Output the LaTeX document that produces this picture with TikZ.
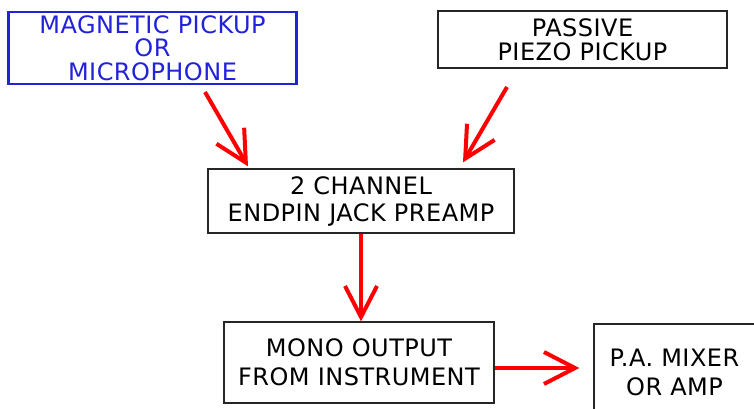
\documentclass[tikz,border=0pt]{standalone}
\usepackage{fontspec}
\setmainfont[LetterSpace=2]{DejaVu Sans}
\usetikzlibrary{arrows.meta}
\definecolor{pickupblue}{RGB}{34,34,218}
\definecolor{flowred}{RGB}{255,0,0}
\begin{document}
\begin{tikzpicture}[x=1pt, y=-1pt,
        box/.style={draw=black!85, line width=1.3pt, inner sep=0pt, align=center},
        flow/.style={draw=flowred, line width=4pt, -{Straight Barb[length=31pt,width=32pt]}}]
                \clip (0,0) rectangle (754,408);

                \node[box, draw=pickupblue, text=pickupblue, line width=2.2pt, minimum width=288pt, minimum height=72pt,
                        font=\fontsize{24}{23.5}\selectfont] (mag) at (152.5,48) {MAGNETIC PICKUP\\OR\\MICROPHONE};
                \node[box, minimum width=289pt, minimum height=57pt, font=\fontsize{24}{24}\selectfont] (piezo) at (582.5,39.5) {PASSIVE\\PIEZO PICKUP};
                \node[box, minimum width=306pt, minimum height=64pt, font=\fontsize{24}{27}\selectfont] (pre) at (361,201) {2 CHANNEL\\ENDPIN JACK PREAMP};
                \node[box, minimum width=270pt, minimum height=81pt, font=\fontsize{24}{29}\selectfont] (mono) at (359,362.5) {MONO OUTPUT\\FROM INSTRUMENT};
                \node[box, minimum width=161pt, minimum height=96pt, font=\fontsize{24}{29}\selectfont] (pa) at (674.5,372) {P.A. MIXER\\OR AMP};

                \coordinate (magtail) at (205,92);
                \coordinate (piezotail) at (507,87);

                \draw[flow] (magtail) -- ([shift={(-113pt,2pt)}]pre.north);
                \draw[flow] (piezotail) -- ([shift={(102pt,6pt)}]pre.north);
                \draw[flow] (pre.south) -- (pre.south |- mono.north);
                \draw[flow, shorten >=14pt] ([yshift=-5.5pt]mono.east) -- ([yshift=-5.5pt]mono.east -| pa.west);
            \end{tikzpicture}
\end{document}
